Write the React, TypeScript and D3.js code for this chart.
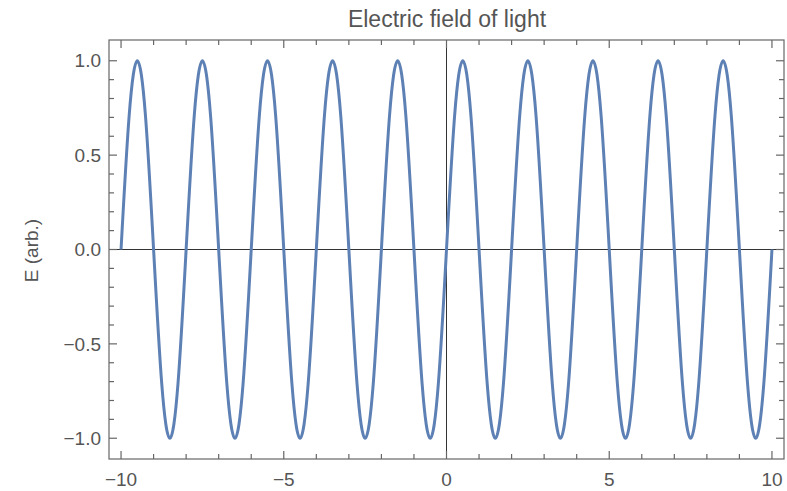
import React from "react"
import * as d3 from "d3"

// samples, x step 0.25
const xs = d3.range(-10, 10.001, 0.25)
const ys = [
  0, 0.71, 1, 0.71, 0, -0.71, -1, -0.71,
  0, 0.71, 1, 0.71, 0, -0.71, -1, -0.71,
  0, 0.71, 1, 0.71, 0, -0.71, -1, -0.71,
  0, 0.71, 1, 0.71, 0, -0.71, -1, -0.71,
  0, 0.71, 1, 0.71, 0, -0.71, -1, -0.71,
  0, 0.71, 1, 0.71, 0, -0.71, -1, -0.71,
  0, 0.71, 1, 0.71, 0, -0.71, -1, -0.71,
  0, 0.71, 1, 0.71, 0, -0.71, -1, -0.71,
  0, 0.71, 1, 0.71, 0, -0.71, -1, -0.71,
  0, 0.71, 1, 0.71, 0, -0.71, -1, -0.71,
  0,
]
const xMajor = [-10, -5, 0, 5, 10]
const xMinor = d3.range(-10, 11, 1)
const yMajor = [-1, -0.5, 0, 0.5, 1]
const yMinor = d3.range(-1, 1.05, 0.1)

const title = "Electric field of light"
const yTitle = "E (arb.)"

const W = 787
const H = 491
const frame = { left: 109, right: 784, top: 40, bottom: 459 }
const font = "'Liberation Sans', Arial, sans-serif"
const fmtY = (v: number) => (v < 0 ? "\u2212" : "") + Math.abs(v).toFixed(1)
const fmtX = (v: number) => (v < 0 ? "\u2212" : "") + Math.abs(v)

export default function App() {
  const x = d3.scaleLinear().domain([-10.37, 10.37]).range([frame.left, frame.right])
  const y = d3.scaleLinear().domain([-1.11, 1.11]).range([frame.bottom, frame.top])

  const line = d3.line<number>()
    .x((d, i) => x(xs[i]))
    .y((d) => y(d))
    .curve(d3.curveNatural)

  const tickCol = "#666"
  const labCol = "#555"

  return (
    <svg width={W} height={H} style={{ position: "absolute", left: 0, top: 0, background: "#fff" }}>
      {/* axes through origin */}
      <line x1={frame.left} x2={frame.right} y1={y(0)} y2={y(0)} stroke="#333" strokeWidth={1} />
      <line x1={x(0)} x2={x(0)} y1={frame.top} y2={frame.bottom} stroke="#333" strokeWidth={1} />

      <path d={line(ys) || ""} fill="none" stroke="#5E81B5" strokeWidth={3} />

      {/* frame */}
      <rect x={frame.left} y={frame.top} width={frame.right - frame.left} height={frame.bottom - frame.top}
        fill="none" stroke={tickCol} strokeWidth={1.2} />

      {/* x ticks bottom + top */}
      {xMinor.map((v) => {
        const len = xMajor.includes(v) ? 8 : 5
        return (
          <g key={"xt" + v} stroke={tickCol} strokeWidth={1.2}>
            <line x1={x(v)} x2={x(v)} y1={frame.bottom} y2={frame.bottom - len} />
            <line x1={x(v)} x2={x(v)} y1={frame.top} y2={frame.top + len} />
          </g>
        )
      })}
      {/* y ticks left + right */}
      {yMinor.map((v) => {
        const major = yMajor.some((m) => Math.abs(m - v) < 1e-6)
        const len = major ? 8 : 5
        return (
          <g key={"yt" + v.toFixed(1)} stroke={tickCol} strokeWidth={1.2}>
            <line x1={frame.left} x2={frame.left + len} y1={y(v)} y2={y(v)} />
            <line x1={frame.right} x2={frame.right - len} y1={y(v)} y2={y(v)} />
          </g>
        )
      })}

      {xMajor.map((v) => (
        <text key={"xl" + v} x={x(v)} y={486} textAnchor="middle" fontFamily={font} fontSize={19} fill={labCol}>
          {fmtX(v)}
        </text>
      ))}
      {yMajor.map((v) => (
        <text key={"yl" + v} x={frame.left - 8} y={y(v)} dy="0.35em" textAnchor="end" fontFamily={font} fontSize={19} fill={labCol}>
          {fmtY(v)}
        </text>
      ))}

      <text x={447} y={27} textAnchor="middle" fontFamily={font} fontSize={23} fill={labCol}>
        {title}
      </text>
      <text transform={`translate(38, ${y(0) + 1}) rotate(-90)`} textAnchor="middle" fontFamily={font} fontSize={19} fill={labCol}>
        {yTitle}
      </text>
    </svg>
  )
}
